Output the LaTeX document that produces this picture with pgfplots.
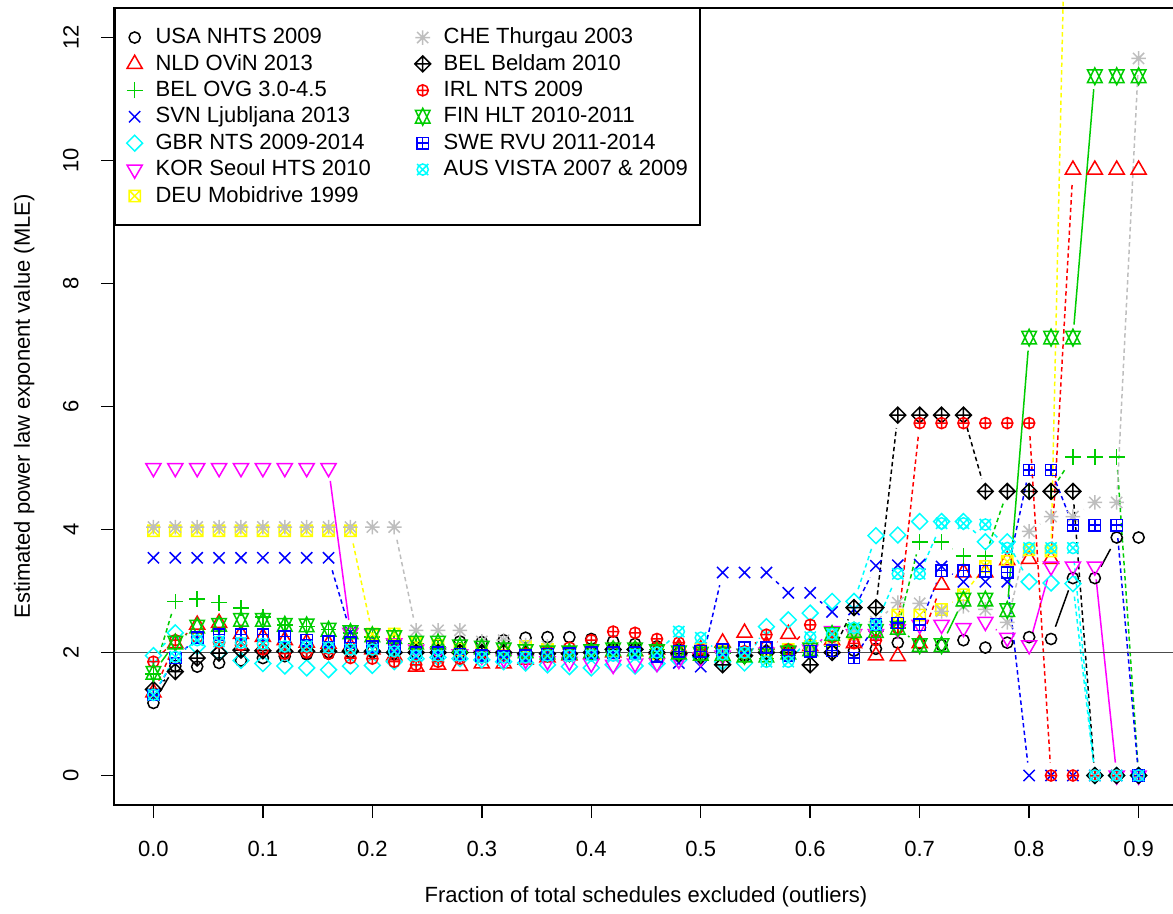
\documentclass[border=0pt]{standalone}
\usepackage{fontspec}
\setmainfont{Liberation Sans}
\usepackage{pgfplots}
\usepackage{pgfplotstable}
\pgfplotsset{compat=1.18}

\definecolor{Rred}{HTML}{FF0000}
\definecolor{Rgreen}{HTML}{00CD00}
\definecolor{Rblue}{HTML}{0000FF}
\definecolor{Rcyan}{HTML}{00FFFF}
\definecolor{Rmag}{HTML}{FF00FF}
\definecolor{Ryel}{HTML}{FFFF00}
\definecolor{Rgray}{HTML}{BEBEBE}

% R-like plotting symbols (pgfplotmarksize = R radius)
\pgfdeclareplotmark{Rcirc}{\pgfpathcircle{\pgfpointorigin}{\pgfplotmarksize}\pgfusepathqstroke}
\pgfdeclareplotmark{Rtri}{%
 \pgfpathmoveto{\pgfqpoint{0pt}{1.555\pgfplotmarksize}}%
 \pgfpathlineto{\pgfqpoint{1.347\pgfplotmarksize}{-0.7775\pgfplotmarksize}}%
 \pgfpathlineto{\pgfqpoint{-1.347\pgfplotmarksize}{-0.7775\pgfplotmarksize}}%
 \pgfpathclose\pgfusepathqstroke}
\pgfdeclareplotmark{Rdtri}{%
 \pgfpathmoveto{\pgfqpoint{0pt}{-1.555\pgfplotmarksize}}%
 \pgfpathlineto{\pgfqpoint{1.347\pgfplotmarksize}{0.7775\pgfplotmarksize}}%
 \pgfpathlineto{\pgfqpoint{-1.347\pgfplotmarksize}{0.7775\pgfplotmarksize}}%
 \pgfpathclose\pgfusepathqstroke}
\pgfdeclareplotmark{Rplus}{%
 \pgfpathmoveto{\pgfqpoint{-1.414\pgfplotmarksize}{0pt}}\pgfpathlineto{\pgfqpoint{1.414\pgfplotmarksize}{0pt}}%
 \pgfpathmoveto{\pgfqpoint{0pt}{-1.414\pgfplotmarksize}}\pgfpathlineto{\pgfqpoint{0pt}{1.414\pgfplotmarksize}}%
 \pgfusepathqstroke}
\pgfdeclareplotmark{Rtimes}{%
 \pgfpathmoveto{\pgfqpoint{-\pgfplotmarksize}{-\pgfplotmarksize}}\pgfpathlineto{\pgfqpoint{\pgfplotmarksize}{\pgfplotmarksize}}%
 \pgfpathmoveto{\pgfqpoint{-\pgfplotmarksize}{\pgfplotmarksize}}\pgfpathlineto{\pgfqpoint{\pgfplotmarksize}{-\pgfplotmarksize}}%
 \pgfusepathqstroke}
\pgfdeclareplotmark{Rdiam}{%
 \pgfpathmoveto{\pgfqpoint{0pt}{1.414\pgfplotmarksize}}%
 \pgfpathlineto{\pgfqpoint{1.414\pgfplotmarksize}{0pt}}%
 \pgfpathlineto{\pgfqpoint{0pt}{-1.414\pgfplotmarksize}}%
 \pgfpathlineto{\pgfqpoint{-1.414\pgfplotmarksize}{0pt}}%
 \pgfpathclose\pgfusepathqstroke}
\pgfdeclareplotmark{Rsqx}{%
 \pgfpathrectanglecorners{\pgfqpoint{-\pgfplotmarksize}{-\pgfplotmarksize}}{\pgfqpoint{\pgfplotmarksize}{\pgfplotmarksize}}%
 \pgfpathmoveto{\pgfqpoint{-\pgfplotmarksize}{-\pgfplotmarksize}}\pgfpathlineto{\pgfqpoint{\pgfplotmarksize}{\pgfplotmarksize}}%
 \pgfpathmoveto{\pgfqpoint{-\pgfplotmarksize}{\pgfplotmarksize}}\pgfpathlineto{\pgfqpoint{\pgfplotmarksize}{-\pgfplotmarksize}}%
 \pgfusepathqstroke}
\pgfdeclareplotmark{Rast}{%
 \pgfpathmoveto{\pgfqpoint{-\pgfplotmarksize}{-\pgfplotmarksize}}\pgfpathlineto{\pgfqpoint{\pgfplotmarksize}{\pgfplotmarksize}}%
 \pgfpathmoveto{\pgfqpoint{-\pgfplotmarksize}{\pgfplotmarksize}}\pgfpathlineto{\pgfqpoint{\pgfplotmarksize}{-\pgfplotmarksize}}%
 \pgfpathmoveto{\pgfqpoint{-1.3\pgfplotmarksize}{0pt}}\pgfpathlineto{\pgfqpoint{1.3\pgfplotmarksize}{0pt}}%
 \pgfpathmoveto{\pgfqpoint{0pt}{-1.3\pgfplotmarksize}}\pgfpathlineto{\pgfqpoint{0pt}{1.3\pgfplotmarksize}}%
 \pgfusepathqstroke}
\pgfdeclareplotmark{Rdplus}{%
 \pgfpathmoveto{\pgfqpoint{0pt}{1.414\pgfplotmarksize}}%
 \pgfpathlineto{\pgfqpoint{1.414\pgfplotmarksize}{0pt}}%
 \pgfpathlineto{\pgfqpoint{0pt}{-1.414\pgfplotmarksize}}%
 \pgfpathlineto{\pgfqpoint{-1.414\pgfplotmarksize}{0pt}}%
 \pgfpathclose
 \pgfpathmoveto{\pgfqpoint{-1.414\pgfplotmarksize}{0pt}}\pgfpathlineto{\pgfqpoint{1.414\pgfplotmarksize}{0pt}}%
 \pgfpathmoveto{\pgfqpoint{0pt}{-1.414\pgfplotmarksize}}\pgfpathlineto{\pgfqpoint{0pt}{1.414\pgfplotmarksize}}%
 \pgfusepathqstroke}
\pgfdeclareplotmark{Rcplus}{%
 \pgfpathcircle{\pgfpointorigin}{\pgfplotmarksize}%
 \pgfpathmoveto{\pgfqpoint{-\pgfplotmarksize}{0pt}}\pgfpathlineto{\pgfqpoint{\pgfplotmarksize}{0pt}}%
 \pgfpathmoveto{\pgfqpoint{0pt}{-\pgfplotmarksize}}\pgfpathlineto{\pgfqpoint{0pt}{\pgfplotmarksize}}%
 \pgfusepathqstroke}
\pgfdeclareplotmark{Rstar}{%
 \pgfpathmoveto{\pgfqpoint{0pt}{1.555\pgfplotmarksize}}%
 \pgfpathlineto{\pgfqpoint{1.347\pgfplotmarksize}{-1.166\pgfplotmarksize}}%
 \pgfpathlineto{\pgfqpoint{-1.347\pgfplotmarksize}{-1.166\pgfplotmarksize}}%
 \pgfpathclose
 \pgfpathmoveto{\pgfqpoint{0pt}{-1.555\pgfplotmarksize}}%
 \pgfpathlineto{\pgfqpoint{1.347\pgfplotmarksize}{1.166\pgfplotmarksize}}%
 \pgfpathlineto{\pgfqpoint{-1.347\pgfplotmarksize}{1.166\pgfplotmarksize}}%
 \pgfpathclose
 \pgfusepathqstroke}
\pgfdeclareplotmark{Rsqp}{%
 \pgfpathrectanglecorners{\pgfqpoint{-\pgfplotmarksize}{-\pgfplotmarksize}}{\pgfqpoint{\pgfplotmarksize}{\pgfplotmarksize}}%
 \pgfpathmoveto{\pgfqpoint{-\pgfplotmarksize}{0pt}}\pgfpathlineto{\pgfqpoint{\pgfplotmarksize}{0pt}}%
 \pgfpathmoveto{\pgfqpoint{0pt}{-\pgfplotmarksize}}\pgfpathlineto{\pgfqpoint{0pt}{\pgfplotmarksize}}%
 \pgfusepathqstroke}
\pgfdeclareplotmark{Rcx}{%
 \pgfpathcircle{\pgfpointorigin}{\pgfplotmarksize}%
 \pgfpathmoveto{\pgfqpoint{-\pgfplotmarksize}{-\pgfplotmarksize}}\pgfpathlineto{\pgfqpoint{\pgfplotmarksize}{\pgfplotmarksize}}%
 \pgfpathmoveto{\pgfqpoint{-\pgfplotmarksize}{\pgfplotmarksize}}\pgfpathlineto{\pgfqpoint{\pgfplotmarksize}{-\pgfplotmarksize}}%
 \pgfusepathqstroke}

% x s1 USA, s2 NLD, s3 BEL OVG, s4 SVN, s5 GBR, s6 KOR, s7 DEU, s8 CHE, s9 BEL Beldam, s10 IRL, s11 FIN, s12 SWE, s13 AUS
\pgfplotstableread{
x    s1   s2   s3   s4   s5   s6   s7   s8    s9   s10  s11   s12  s13
0.00 1.18 1.35 1.65 3.54 1.95 5.00 3.98 4.04  1.40 1.85 1.67  1.31 1.31
0.02 1.78 2.15 2.83 3.54 2.32 5.00 3.98 4.04  1.69 2.20 2.16  1.91 1.93
0.04 1.77 2.45 2.87 3.54 2.10 5.00 3.98 4.04  1.91 2.25 2.42  2.24 2.20
0.06 1.83 2.48 2.81 3.54 2.00 5.00 3.98 4.04  1.99 2.16 2.45  2.29 2.18
0.08 1.87 2.30 2.72 3.54 1.87 5.00 3.98 4.04  2.04 2.12 2.53  2.29 2.16
0.10 1.91 2.25 2.58 3.54 1.82 5.00 3.98 4.04  2.03 2.05 2.53  2.29 2.14
0.12 1.94 2.20 2.45 3.54 1.78 5.00 3.98 4.04  2.02 1.98 2.45  2.26 2.10
0.14 1.97 2.16 2.42 3.54 1.75 5.00 3.98 4.04  2.02 2.00 2.44  2.20 2.10
0.16 1.98 2.14 2.37 3.54 1.72 5.00 3.98 4.04  2.02 1.98 2.37  2.18 2.08
0.18 2.00 2.10 2.32 2.33 1.78 2.32 3.98 4.04  2.02 1.91 2.33  2.16 2.05
0.20 2.02 2.05 2.25 2.20 1.79 2.30 2.30 4.04  2.02 1.90 2.28  2.10 2.05
0.22 2.05 1.95 2.20 2.10 1.85 2.15 2.30 4.04  2.00 1.85 2.25  2.10 2.02
0.24 2.08 1.77 2.15 2.05 1.90 2.05 2.15 2.36  2.00 1.80 2.16  2.00 1.95
0.26 2.12 1.80 2.10 2.02 1.92 2.00 2.12 2.36  2.00 1.85 2.16  2.00 1.95
0.28 2.18 1.78 2.05 2.00 1.90 1.97 2.05 2.36  2.00 1.90 2.10  1.97 1.95
0.30 2.17 1.82 2.02 1.98 1.88 1.95 2.02 2.18  2.00 1.92 2.08  1.95 1.92
0.32 2.20 1.82 2.00 1.97 1.85 1.90 2.00 2.20  2.00 1.95 2.05  1.93 1.92
0.34 2.24 1.88 2.00 1.98 1.83 1.88 2.10 2.12  1.98 1.98 2.02  1.95 1.92
0.36 2.25 1.92 1.98 2.00 1.80 1.86 2.05 2.10  1.98 2.02 2.00  1.97 1.95
0.38 2.25 1.95 1.98 2.00 1.77 1.85 2.00 2.05  1.98 2.08 2.00  1.98 1.95
0.40 2.22 1.97 2.00 2.02 1.75 1.82 2.00 2.05  2.00 2.20 2.02  2.00 1.95
0.42 2.18 2.00 2.02 2.03 1.80 1.80 2.02 2.02  2.05 2.34 2.05  2.00 1.95
0.44 2.14 2.02 2.05 1.98 1.78 1.82 2.00 2.00  2.05 2.32 2.05  2.00 1.97
0.46 2.10 2.05 2.05 1.90 1.82 1.83 1.98 2.00  2.00 2.22 2.02  1.94 2.00
0.48 2.05 2.08 2.02 1.83 1.88 1.88 2.00 2.02  1.98 2.16 2.00  2.02 2.34
0.50 2.02 2.05 2.00 1.77 1.92 1.92 2.05 2.05  1.95 2.05 1.98  2.02 2.24
0.52 2.00 2.16 1.98 3.30 1.85 1.95 2.02 2.00  1.80 2.00 1.98  2.05 1.97
0.54 1.98 2.32 1.95 3.30 1.83 1.98 2.00 2.02  1.95 2.02 1.95  2.08 2.00
0.56 1.97 2.12 1.90 3.30 2.42 2.00 1.98 2.05  2.00 2.29 1.95  2.08 1.85
0.58 1.97 2.30 1.95 2.97 2.53 2.02 2.05 2.00  2.00 2.05 2.00  1.95 1.85
0.60 2.00 2.10 2.00 2.97 2.64 2.05 2.10 2.05  1.80 2.45 2.05  2.02 2.25
0.62 2.02 2.20 2.10 2.66 2.83 2.35 2.20 2.20  2.00 2.25 2.30  2.03 2.30
0.64 2.03 2.15 2.25 2.70 2.83 2.30 2.30 2.35  2.73 2.15 2.35  1.91 2.40
0.66 2.06 1.95 2.35 3.41 3.90 2.30 2.45 2.50  2.73 2.20 2.35  2.45 2.45
0.68 2.16 1.94 2.40 3.42 3.91 2.38 2.61 2.81  5.86 2.40 2.40  2.48 3.28
0.70 2.15 2.15 3.80 3.43 4.13 2.45 2.61 2.80  5.86 5.73 2.12  2.45 3.28
0.72 2.12 3.10 3.80 3.40 4.13 2.45 2.70 2.67  5.86 5.73 2.12  3.33 4.10
0.74 2.20 3.30 3.57 3.15 4.13 2.40 2.94 2.75  5.86 5.73 2.86  3.33 4.10
0.76 2.08 3.30 3.57 3.15 3.80 2.50 3.40 2.70  4.62 5.73 2.86  3.32 4.08
0.78 2.16 3.50 4.62 3.15 3.80 2.24 3.48 2.49  4.62 5.73 2.69  3.30 3.70
0.80 2.25 3.52 4.62 0.00 3.15 2.12 3.67 3.97  4.62 5.73 7.12  4.97 3.70
0.82 2.22 3.52 4.62 0.00 3.13 3.40 3.65 4.21  4.62 0.00 7.12  4.97 3.70
0.84 3.21 9.85 5.18 0.00 3.12 3.40 19.8 4.21  4.62 0.00 7.12  4.07 3.70
0.86 3.21 9.85 5.18 0.00 0.00 3.40 19.8 4.44  0.00 0.00 11.37 4.07 0.00
0.88 3.87 9.85 5.18 0.00 0.00 0.00 19.8 4.44  0.00 0.00 11.37 4.07 0.00
0.90 3.87 9.85 0.00 0.00 0.00 0.00 19.8 11.66 0.00 0.00 11.37 0.00 0.00
}\data

% difference to the next point (d) and start y of the visible connecting segments (l), as R type="b"
\newcommand\mkseg[1]{%
  \pgfplotstablecreatecol[create col/assign/.code={%
     \ifnum\pgfplotstablerow<45\relax
        \pgfmathsetmacro\tmpd{\nextrow{s#1}-\thisrow{s#1}}%
     \else
        \def\tmpd{0}%
     \fi
     \pgfkeyslet{/pgfplots/table/create col/next content}\tmpd
  }]{d#1}\data
  \pgfplotstablecreatecol[create col/assign/.code={%
     \pgfmathsetmacro\tmpa{abs(\thisrow{d#1})}%
     \ifdim\tmpa pt>0.228pt
        \pgfmathsetmacro\tmpy{\thisrow{s#1}}%
     \else
        \def\tmpy{nan}%
     \fi
     \pgfkeyslet{/pgfplots/table/create col/next content}\tmpy
  }]{l#1}\data
}
\mkseg{1}\mkseg{2}\mkseg{3}\mkseg{4}\mkseg{5}\mkseg{6}\mkseg{7}
\mkseg{8}\mkseg{9}\mkseg{10}\mkseg{11}\mkseg{12}\mkseg{13}

\pgfplotsset{
  segs/.style={forget plot, no markers, line width=0.75pt,
    quiver={u=0.02, v=\thisrow{d#1},
      every arrow/.append style={shorten <=6.5pt, shorten >=6.5pt}}},
  pts/.style={forget plot, only marks, mark size=2.8pt, mark options={solid, line width=0.75pt}},
  lgd/.style={only marks, mark size=2.8pt, mark options={solid, line width=0.75pt}},
  rdash/.style={dash pattern=on 2.2pt off 1.6pt},
}

\newcommand\series[4]{%
  \addplot[segs=#1, #2, #4] table[x=x, y=l#1] {\data};
  \addplot[pts, #2, mark=#3] table[x=x, y=s#1] {\data};
}

\begin{document}
\fontsize{11}{13.2}\selectfont
\begin{tikzpicture}
\begin{axis}[
  scale only axis,
  width=532pt, height=398.5pt,
  xmin=-0.036, xmax=0.936,
  ymin=-0.48, ymax=12.48,
  clip=false,
  axis line style={line width=0.75pt},
  xtick={0,0.1,0.2,0.3,0.4,0.5,0.6,0.7,0.8,0.9},
  xticklabels={0.0,0.1,0.2,0.3,0.4,0.5,0.6,0.7,0.8,0.9},
  ytick={0,2,4,6,8,10,12},
  yticklabels={0,2,4,6,8,10,12},
  xtick pos=left, ytick pos=left,
  tick align=outside,
  major tick length=6.5pt,
  tick style={line width=0.75pt, black},
  xticklabel style={font=\fontsize{11}{13.2}\selectfont, anchor=north, inner sep=0pt, yshift=-11.5pt},
  yticklabel style={font=\fontsize{11}{13.2}\selectfont, xshift=-11pt, rotate=90, anchor=south, inner sep=0pt},
  xlabel={Fraction of total schedules excluded (outliers)},
  ylabel={Estimated power law exponent value (MLE)},
  xlabel style={font=\fontsize{11}{13.2}\selectfont, at={(axis description cs:0.5,-0.1155)}, anchor=center},
  ylabel style={font=\fontsize{11}{13.2}\selectfont, at={(axis description cs:-0.0845,0.5)}, anchor=center},
  legend columns=2,
  legend cell align=left,
  legend style={at={(rel axis cs:0,1)}, anchor=north west,
    draw=black, line width=0.75pt, fill=white,
    inner xsep=6pt, inner ysep=8.7pt, row sep=1.8pt,
    font=\fontsize{11}{13.2}\selectfont,
    nodes={inner sep=0pt, text height=8.8pt, text depth=2.6pt},
    /tikz/every odd column/.append style={column sep=6.5pt},
    /tikz/every even column/.append style={column sep=22pt}},
]
\series{1}{black}{Rcirc}{solid}
\series{2}{Rred}{Rtri}{rdash}
\series{3}{Rgreen}{Rplus}{rdash}
\series{4}{Rblue}{Rtimes}{rdash}
\series{5}{Rcyan}{Rdiam}{rdash}
\series{6}{Rmag}{Rdtri}{solid}
\addplot[segs=7, Ryel, rdash, skip coords between index={43}{46}] table[x=x, y=l7] {\data};
\addplot[pts, Ryel, mark=Rsqx, skip coords between index={43}{46}] table[x=x, y=s7] {\data};
\series{8}{Rgray}{Rast}{rdash}
\series{9}{black}{Rdplus}{rdash}
\series{10}{Rred}{Rcplus}{rdash}
\addplot[segs=11, Rgreen, solid] table[x=x, y=l11] {\data};
\addplot[pts, Rgreen, mark=Rstar, mark size=2.7pt] table[x=x, y=s11] {\data};
\series{12}{Rblue}{Rsqp}{rdash}
\series{13}{Rcyan}{Rcx}{rdash}

\addplot[forget plot, black!70, line width=0.75pt] coordinates {(-0.036,2) (0.936,2)};

\addlegendimage{lgd, black, mark=Rcirc}\addlegendentry{USA NHTS 2009}
\addlegendimage{lgd, Rgray, mark=Rast}\addlegendentry{CHE Thurgau 2003}
\addlegendimage{lgd, Rred, mark=Rtri}\addlegendentry{NLD OViN 2013}
\addlegendimage{lgd, black, mark=Rdplus}\addlegendentry{BEL Beldam 2010}
\addlegendimage{lgd, Rgreen, mark=Rplus}\addlegendentry{BEL OVG 3.0-4.5}
\addlegendimage{lgd, Rred, mark=Rcplus}\addlegendentry{IRL NTS 2009}
\addlegendimage{lgd, Rblue, mark=Rtimes}\addlegendentry{SVN Ljubljana 2013}
\addlegendimage{lgd, Rgreen, mark=Rstar, mark size=2.7pt}\addlegendentry{FIN HLT 2010-2011}
\addlegendimage{lgd, Rcyan, mark=Rdiam}\addlegendentry{GBR NTS 2009-2014}
\addlegendimage{lgd, Rblue, mark=Rsqp}\addlegendentry{SWE RVU 2011-2014}
\addlegendimage{lgd, Rmag, mark=Rdtri}\addlegendentry{KOR Seoul HTS 2010}
\addlegendimage{lgd, Rcyan, mark=Rcx}\addlegendentry{AUS VISTA 2007 \& 2009}
\addlegendimage{lgd, Ryel, mark=Rsqx}\addlegendentry{DEU Mobidrive 1999}

\coordinate (bbl) at (rel axis cs:-0.10714,-0.13551);
\coordinate (btr) at (rel axis cs:0.99530,1.01004);
\end{axis}
\pgfresetboundingbox
\useasboundingbox (bbl) rectangle (btr);
\end{tikzpicture}
\end{document}
